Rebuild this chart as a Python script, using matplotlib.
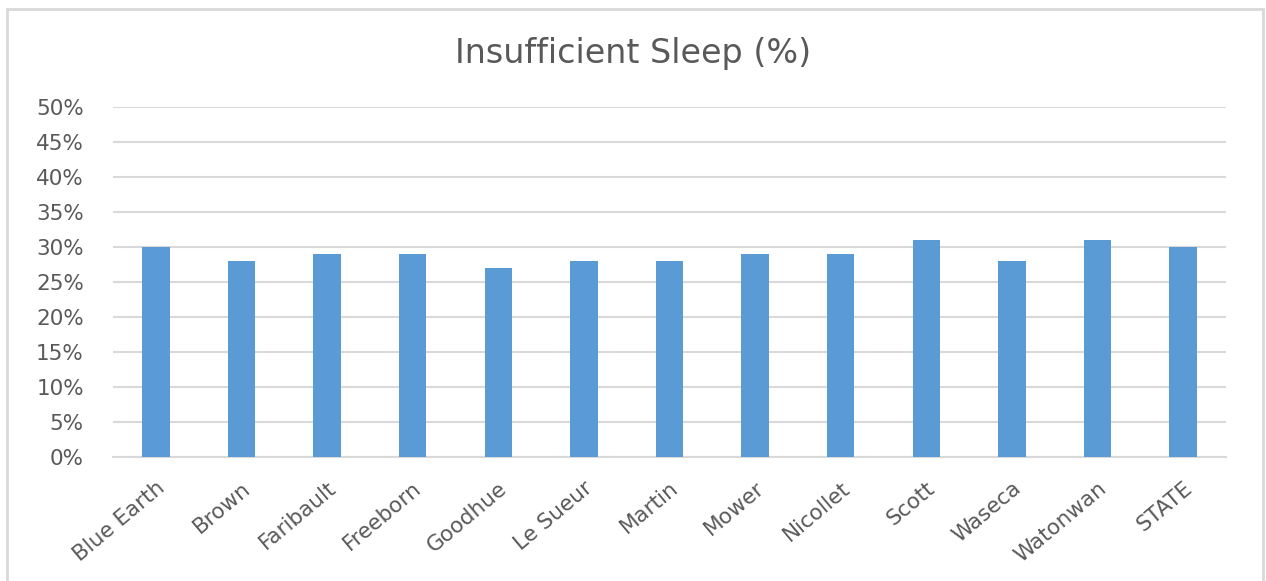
import matplotlib.pyplot as plt
from matplotlib.patches import Rectangle
from matplotlib.ticker import MultipleLocator, FuncFormatter

counties = ["Blue Earth", "Brown", "Faribault", "Freeborn", "Goodhue", "Le Sueur",
            "Martin", "Mower", "Nicollet", "Scott", "Waseca", "Watonwan", "STATE"]
sleep_pct = [30, 28, 29, 29, 27, 28, 28, 29, 29, 31, 28, 31, 30]

plt.rcParams['font.family'] = ['DejaVu Sans']
txt = "#595959"
grid = "#D9D9D9"

fig = plt.figure(figsize=(12.66, 5.81), dpi=100)
ax = fig.add_axes([113/1266, 1-457/581, (1226-113)/1266, (457-107)/581])

x = range(len(counties))
ax.bar(x, sleep_pct, width=0.32, color="#5B9BD5", zorder=3)

ax.set_xlim(-0.5, len(counties)-0.5)
ax.set_ylim(0, 50)
ax.yaxis.set_major_locator(MultipleLocator(5))
ax.yaxis.set_major_formatter(FuncFormatter(lambda v, p: f"{int(v)}%"))
ax.grid(axis="y", color=grid, linewidth=1.5, zorder=0)
for s in ["top", "right", "left"]:
    ax.spines[s].set_visible(False)
ax.spines["bottom"].set_color(grid)
ax.spines["bottom"].set_linewidth(1.5)
ax.tick_params(length=0, labelsize=15.5, labelcolor=txt)
ax.tick_params(axis="y", pad=21)
ax.set_xticks(list(x))
ax.set_xticklabels(counties, rotation=40, ha="right", rotation_mode="anchor")
ax.tick_params(axis="x", pad=15)

fig.text(0.5, 1-53/581, "Insufficient Sleep (%)", ha="center", va="center",
         fontsize=24, color=txt)

fig.patches.append(Rectangle((7/1266, -0.02), (1263-7)/1266, 1-9/581+0.02,
                             transform=fig.transFigure, fill=False,
                             edgecolor=grid, linewidth=2))

plt.savefig("out.png", dpi=100)
